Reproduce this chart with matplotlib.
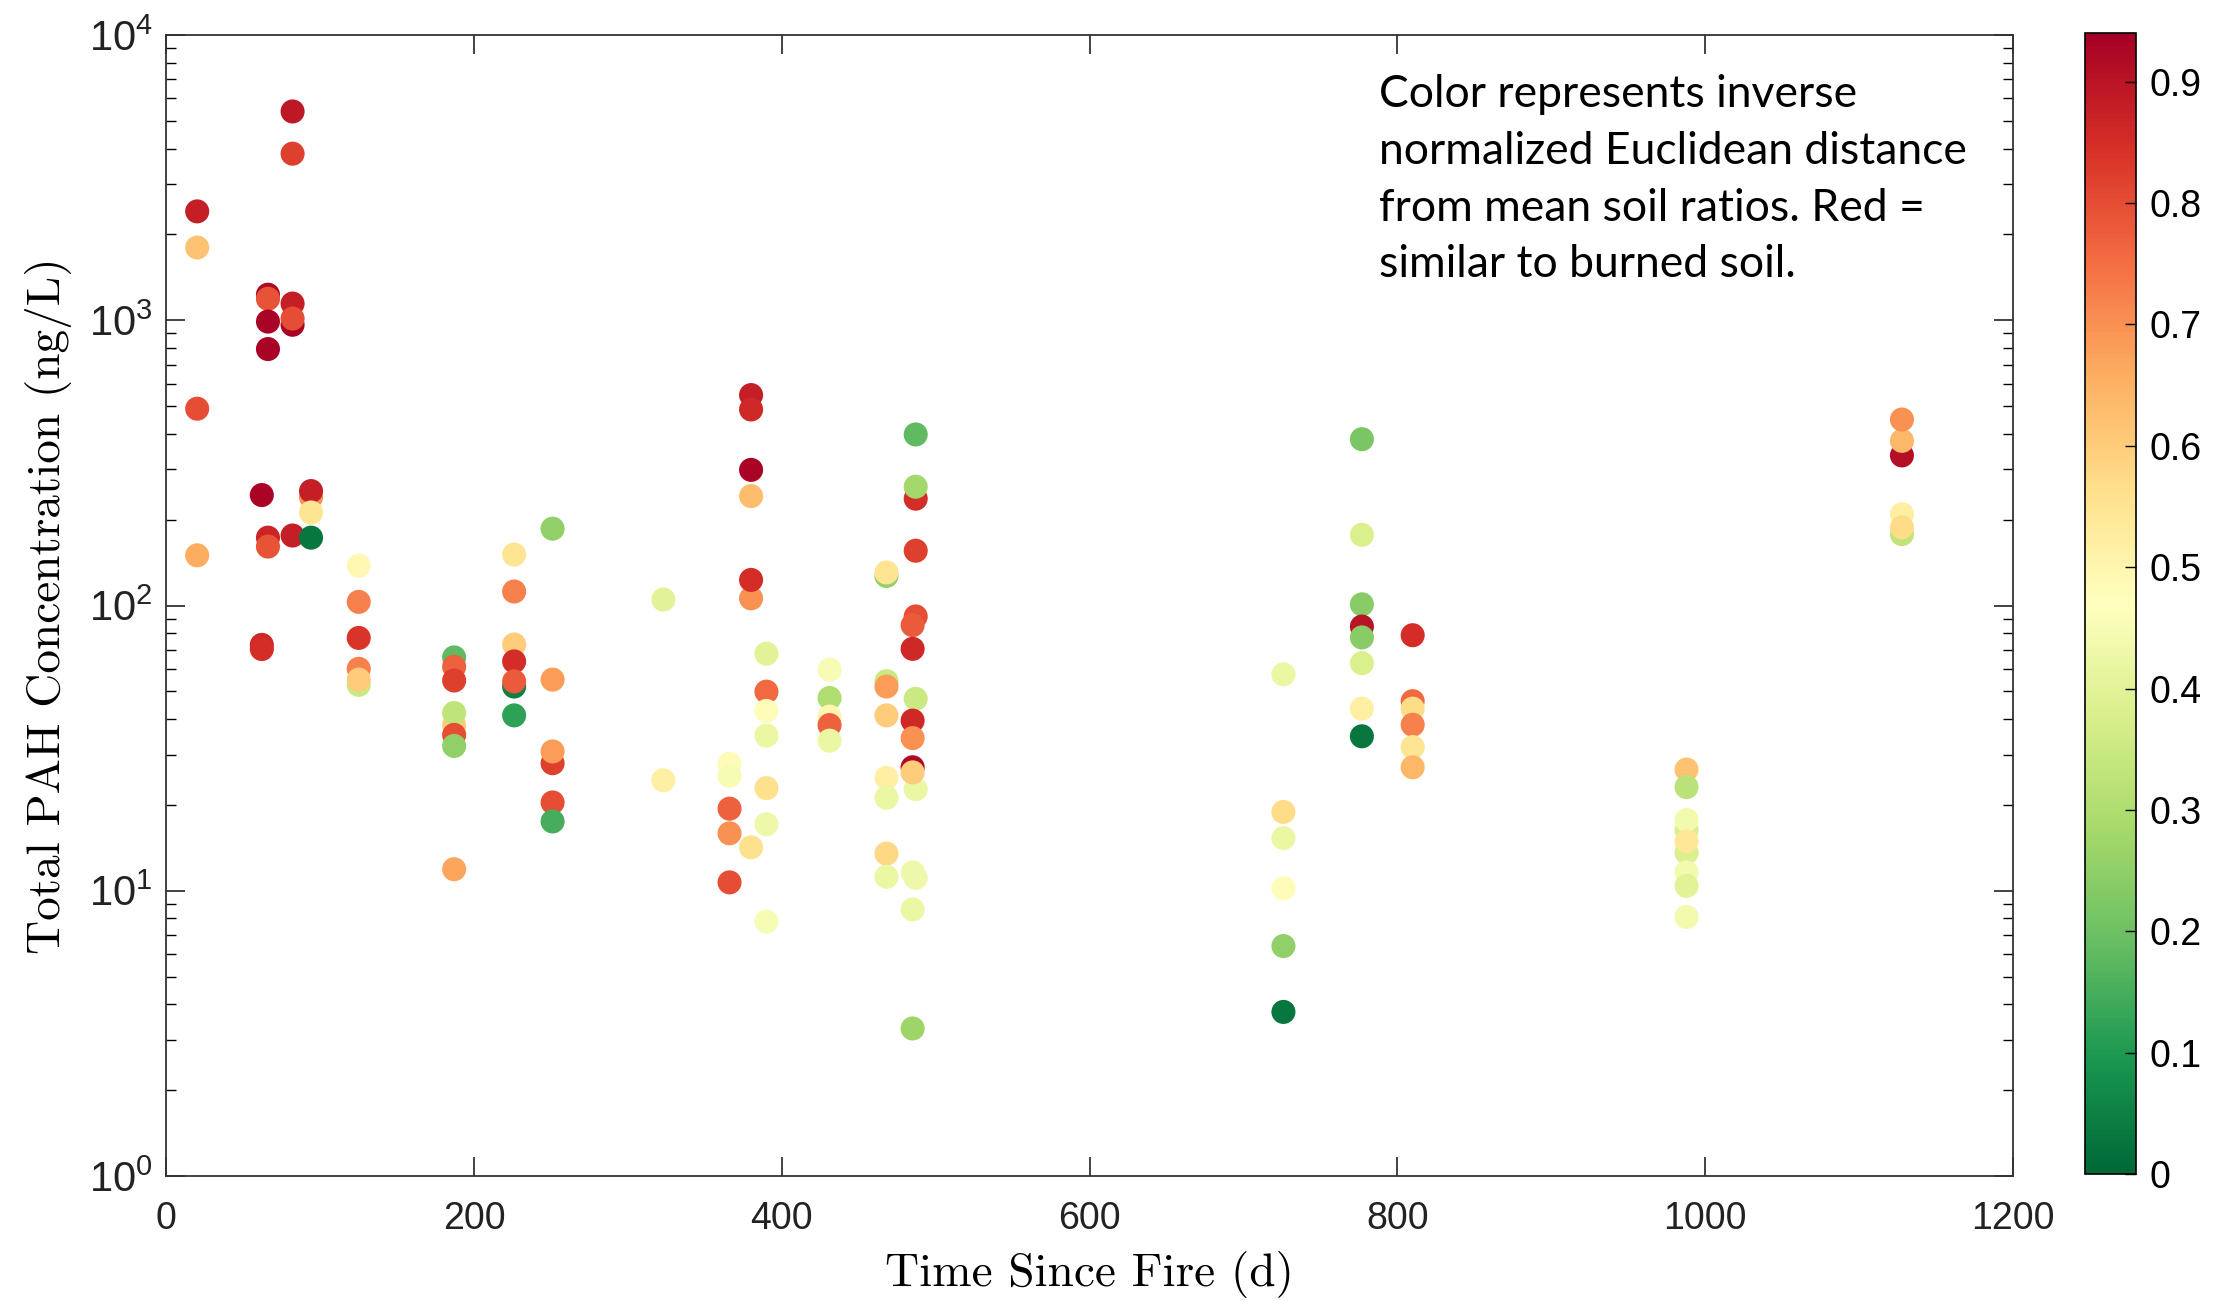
import matplotlib
matplotlib.use('Agg')
import matplotlib.pyplot as plt
from matplotlib.colors import Normalize
from matplotlib.ticker import LogLocator, NullFormatter

plt.rcParams['font.family'] = ['Liberation Sans', 'DejaVu Sans']

# one row per sampling date
days = [
    20, 20, 20, 20,
    62, 62, 62,
    66, 66, 66, 66, 66, 66,
    82, 82, 82, 82, 82, 82,
    94, 94, 94, 94,
    125, 125, 125, 125, 125, 125,
    187, 187, 187, 187, 187, 187, 187, 187,
    226, 226, 226, 226, 226, 226, 226,
    251, 251, 251, 251, 251, 251,
    323, 323,
    366, 366, 366, 366, 366,
    380, 380, 380, 380, 380, 380, 380,
    390, 390, 390, 390, 390, 390, 390,
    431, 431, 431, 431, 431,
    468, 468, 468, 468, 468, 468, 468, 468, 468,
    487, 487, 487, 487, 487, 487, 487, 487,
    485, 485, 485, 485, 485, 485, 485, 485, 485,
    726, 726, 726, 726, 726, 726,
    777, 777, 777, 777, 777, 777, 777, 777,
    810, 810, 810, 810, 810, 810,
    988, 988, 988, 988, 988, 988, 988, 988, 988,
    1128, 1128, 1128, 1128, 1128, 1128,
]
total_pah = [
    2410, 1800, 490, 150,
    244, 72.8, 70.4,
    1230, 1190, 990, 793, 173, 161,
    5400, 3840, 1145, 965, 1015, 176,
    240, 252, 212, 173,
    138, 103, 77, 52.7, 60, 55,
    65.8, 61, 54.6, 38, 42, 35.2, 32.2, 11.9,
    151, 112, 73, 63.7, 52, 54.2, 41.2,
    186, 55, 28, 30.8, 20.4, 17.5,
    105, 24.4,
    27.9, 25.3, 19.4, 15.9, 10.7,
    547, 487, 299, 242, 106, 123, 14.2,
    67.8, 49.9, 42.7, 35, 22.9, 17.1, 7.8,
    59.6, 47.4, 40.8, 38.1, 33.6,
    127, 130.6, 54.3, 52, 41.2, 24.9, 21.2, 13.5, 11.2,
    398, 237, 261, 155.7, 91.6, 47.1, 22.7, 11.1,
    85.4, 70.5, 39.5, 34.3, 27.1, 26, 11.6, 8.6, 3.29,
    57.4, 18.9, 15.3, 10.2, 6.4, 3.76,
    383, 177, 101, 84.4, 77.3, 62.8, 43.5, 34.8,
    78.7, 46.2, 43.5, 38.2, 31.9, 27.1,
    26.6, 23.1, 16.3, 17.7, 13.6, 14.9, 11.6, 10.4, 8.1,
    336, 378, 449, 178, 209, 188,
]
similarity = [
    0.88, 0.62, 0.80, 0.66,
    0.93, 0.86, 0.85,
    0.92, 0.79, 0.93, 0.93, 0.87, 0.79,
    0.89, 0.82, 0.88, 0.93, 0.80, 0.88,
    0.70, 0.88, 0.55, 0.03,
    0.49, 0.72, 0.84, 0.35, 0.72, 0.60,
    0.18, 0.77, 0.82, 0.60, 0.33, 0.80, 0.25, 0.67,
    0.55, 0.72, 0.60, 0.85, 0.05, 0.78, 0.12,
    0.25, 0.68, 0.82, 0.68, 0.80, 0.15,
    0.40, 0.52,
    0.48, 0.45, 0.77, 0.70, 0.80,
    0.88, 0.86, 0.93, 0.63, 0.70, 0.85, 0.56,
    0.40, 0.76, 0.48, 0.42, 0.56, 0.43, 0.45,
    0.45, 0.30, 0.50, 0.77, 0.42,
    0.25, 0.55, 0.35, 0.68, 0.60, 0.52, 0.42, 0.58, 0.42,
    0.18, 0.85, 0.28, 0.82, 0.80, 0.35, 0.42, 0.43,
    0.78, 0.86, 0.86, 0.70, 0.92, 0.60, 0.43, 0.42, 0.27,
    0.42, 0.57, 0.42, 0.48, 0.25, 0.03,
    0.22, 0.38, 0.24, 0.90, 0.24, 0.38, 0.52, 0.03,
    0.85, 0.76, 0.57, 0.72, 0.55, 0.64,
    0.62, 0.32, 0.38, 0.44, 0.38, 0.54, 0.44, 0.40, 0.44,
    0.91, 0.64, 0.70, 0.33, 0.52, 0.57,
]

x_ticks = [0, 200, 400, 600, 800, 1000, 1200]
cbar_ticks = [0, 0.1, 0.2, 0.3, 0.4, 0.5, 0.6, 0.7, 0.8, 0.9]
note = ('Color represents inverse\nnormalized Euclidean distance\n'
        'from mean soil ratios. Red =\nsimilar to burned soil.')

fig = plt.figure(figsize=(22.13, 13.01), dpi=100)
ax = fig.add_axes([0.0752, 0.0961, 0.8343, 0.8769])
cax = fig.add_axes([0.9422, 0.0976, 0.0230, 0.8770])

norm = Normalize(vmin=0, vmax=0.94)
sc = ax.scatter(days, total_pah, c=similarity, cmap='RdYlGn_r', norm=norm,
                s=300, edgecolors='none')

ax.set_yscale('log')
ax.set_xlim(0, 1200)
ax.set_ylim(1, 1e4)
ax.set_xticks(x_ticks)
ax.yaxis.set_major_locator(LogLocator(base=10, numticks=10))
ax.yaxis.set_minor_locator(LogLocator(base=10, subs=range(2, 10), numticks=50))
ax.yaxis.set_minor_formatter(NullFormatter())
ax.tick_params(axis='both', which='major', direction='in', length=14, width=1.2,
               top=True, right=True, labelsize=27, colors='#222222')
ax.tick_params(axis='x', which='major', pad=18)
ax.tick_params(axis='y', which='major', labelsize=30, pad=10)
ax.tick_params(axis='y', which='minor', direction='in', length=7, width=1.0,
               right=True, left=True)
ax.tick_params(axis='x', which='minor', bottom=False, top=False)
for sp in ax.spines.values():
    sp.set_linewidth(1.3)
    sp.set_color('#333333')

ax.set_xlabel('Time Since Fire (d)', family='cmr10', fontsize=34, labelpad=10)
ax.set_ylabel('Total PAH Concentration (ng/L)', family='cmr10', fontsize=34, labelpad=12)

ax.text(0.657, 0.966, note, transform=ax.transAxes, ha='left', va='top',
        family='Lato', fontsize=32, linespacing=1.48, color='black')

cb = fig.colorbar(sc, cax=cax)
cb.set_ticks(cbar_ticks)
cb.set_ticklabels(['0'] + ['%.1f' % t for t in cbar_ticks[1:]])
cb.ax.tick_params(direction='in', length=8, width=1.0, labelsize=27, pad=10)
cb.outline.set_linewidth(1.2)

fig.savefig('out.png', dpi=100)
